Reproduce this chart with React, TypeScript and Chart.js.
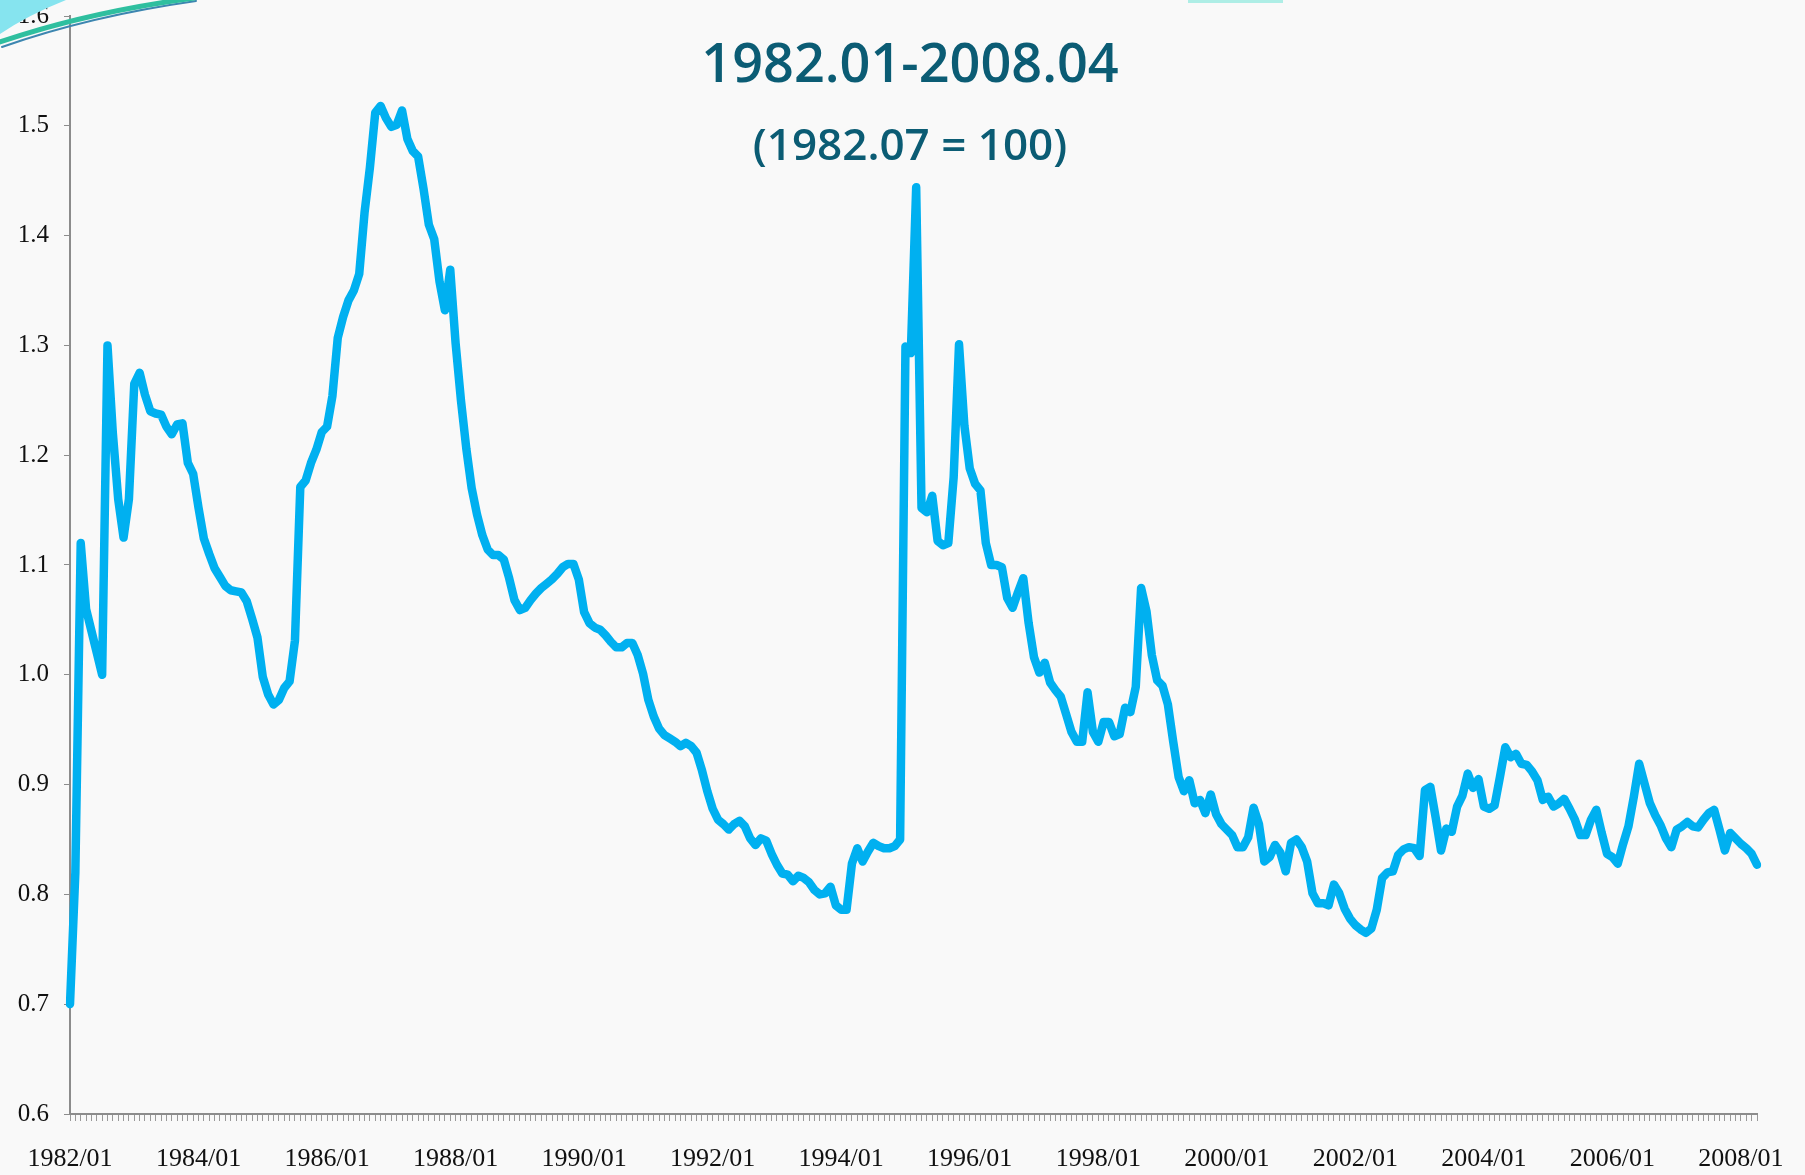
import React, { useEffect, useRef } from 'react';
import { Chart, registerables } from 'chart.js';

Chart.register(...registerables);

// ---- Data: monthly index values, 1982/01 - 2008/04 ----
const v1982 = [0.70, 0.82, 1.12, 1.06, 1.04, 1.02, 1.00, 1.30, 1.22, 1.16, 1.125, 1.16];
const v1983 = [1.265, 1.275, 1.255, 1.24, 1.238, 1.237, 1.226, 1.219, 1.228, 1.229, 1.193, 1.183];
const v1984 = [1.152, 1.124, 1.110, 1.097, 1.089, 1.081, 1.077, 1.076, 1.075, 1.067, 1.051, 1.034];
const v1985 = [0.998, 0.982, 0.973, 0.977, 0.988, 0.994, 1.031, 1.171, 1.177, 1.193, 1.205, 1.221];
const v1986 = [1.226, 1.254, 1.307, 1.326, 1.341, 1.350, 1.365, 1.421, 1.462, 1.512, 1.518, 1.507];
const v1987 = [1.499, 1.501, 1.514, 1.488, 1.477, 1.472, 1.443, 1.410, 1.397, 1.358, 1.332, 1.369];
const v1988 = [1.302, 1.250, 1.206, 1.170, 1.146, 1.127, 1.114, 1.109, 1.109, 1.105, 1.088, 1.068];
const v1989 = [1.059, 1.061, 1.068, 1.074, 1.079, 1.083, 1.087, 1.092, 1.098, 1.101, 1.101, 1.087];
const v1990 = [1.057, 1.047, 1.043, 1.041, 1.036, 1.030, 1.025, 1.025, 1.029, 1.029, 1.018, 1.001];
const v1991 = [0.977, 0.962, 0.951, 0.945, 0.942, 0.939, 0.935, 0.938, 0.935, 0.929, 0.913, 0.894];
const v1992 = [0.878, 0.868, 0.864, 0.859, 0.864, 0.867, 0.862, 0.851, 0.845, 0.851, 0.849, 0.837];
const v1993 = [0.827, 0.819, 0.818, 0.812, 0.817, 0.815, 0.811, 0.804, 0.800, 0.801, 0.807, 0.790];
const v1994 = [0.786, 0.786, 0.828, 0.842, 0.830, 0.839, 0.847, 0.844, 0.842, 0.842, 0.844, 0.850];
const v1995 = [1.299, 1.293, 1.444, 1.152, 1.148, 1.163, 1.122, 1.118, 1.120, 1.180, 1.301, 1.227];
const v1996 = [1.188, 1.174, 1.168, 1.120, 1.100, 1.100, 1.098, 1.070, 1.061, 1.075, 1.088, 1.047];
const v1997 = [1.016, 1.002, 1.011, 0.993, 0.986, 0.980, 0.964, 0.948, 0.939, 0.939, 0.984, 0.948];
const v1998 = [0.939, 0.957, 0.957, 0.944, 0.946, 0.970, 0.966, 0.989, 1.079, 1.058, 1.018, 0.995];
const v1999 = [0.990, 0.973, 0.939, 0.907, 0.894, 0.904, 0.883, 0.886, 0.874, 0.891, 0.873, 0.864];
const v2000 = [0.859, 0.854, 0.843, 0.843, 0.852, 0.879, 0.864, 0.830, 0.834, 0.845, 0.838, 0.821];
const v2001 = [0.847, 0.850, 0.843, 0.830, 0.801, 0.792, 0.792, 0.790, 0.809, 0.801, 0.787, 0.778];
const v2002 = [0.772, 0.768, 0.765, 0.769, 0.786, 0.815, 0.820, 0.821, 0.836, 0.841, 0.843, 0.842];
const v2003 = [0.835, 0.895, 0.898, 0.870, 0.840, 0.860, 0.857, 0.880, 0.890, 0.910, 0.897, 0.905];
const v2004 = [0.880, 0.878, 0.881, 0.907, 0.934, 0.925, 0.928, 0.919, 0.918, 0.912, 0.904, 0.886];
const v2005 = [0.889, 0.880, 0.883, 0.887, 0.878, 0.868, 0.854, 0.854, 0.868, 0.877, 0.856, 0.837];
const v2006 = [0.834, 0.828, 0.846, 0.862, 0.889, 0.919, 0.901, 0.883, 0.872, 0.863, 0.851, 0.843];
const v2007 = [0.859, 0.862, 0.866, 0.862, 0.861, 0.868, 0.874, 0.877, 0.859, 0.840, 0.856, 0.851];
const v2008 = [0.846, 0.842, 0.837, 0.827];

const yearlySeries = [
  v1982, v1983, v1984, v1985, v1986, v1987, v1988, v1989, v1990, v1991,
  v1992, v1993, v1994, v1995, v1996, v1997, v1998, v1999, v2000, v2001,
  v2002, v2003, v2004, v2005, v2006, v2007, v2008,
];
const firstYear = 1982;
const labelEveryMonths = 24;

const yMin = 0.6;
const yMax = 1.6;
const yStep = 0.1;

const titleText = '1982.01-2008.04';
const subtitleText = '(1982.07 = 100)';

// Build categories (YYYY/MM) and the flat value series
const monthLabels: string[] = [];
const values: number[] = [];
yearlySeries.forEach((arr, yi) => {
  arr.forEach((v, mi) => {
    monthLabels.push(`${firstYear + yi}/${String(mi + 1).padStart(2, '0')}`);
    values.push(v);
  });
});

const decorPlugin = {
  id: 'decor',
  beforeDraw(chart: any) {
    const ctx = chart.ctx;
    ctx.save();
    ctx.fillStyle = '#f9f9f9';
    ctx.fillRect(0, 0, chart.width, chart.height);
    ctx.restore();
  },
  afterDraw(chart: any) {
    const ctx = chart.ctx;
    ctx.save();
    // cyan corner
    ctx.fillStyle = '#86e4ef';
    ctx.beginPath();
    ctx.moveTo(0, 0);
    ctx.lineTo(66, 0);
    ctx.quadraticCurveTo(28, 15, 0, 34);
    ctx.closePath();
    ctx.fill();
    // stripe
    ctx.lineCap = 'round';
    ctx.strokeStyle = '#3d86b0';
    ctx.lineWidth = 2;
    ctx.beginPath();
    ctx.moveTo(2, 47);
    ctx.quadraticCurveTo(90, 16, 196, 1);
    ctx.stroke();
    ctx.strokeStyle = '#2fbf9f';
    ctx.lineWidth = 5;
    ctx.beginPath();
    ctx.moveTo(0, 42);
    ctx.quadraticCurveTo(88, 12, 194, -2);
    ctx.stroke();
    // small top bar
    ctx.fillStyle = '#aeeee6';
    ctx.fillRect(1188, 0, 95, 3);
    ctx.restore();
  },
};

export default function App() {
  const canvasRef = useRef<HTMLCanvasElement | null>(null);

  useEffect(() => {
    if (!canvasRef.current) return;
    const tickFont = { family: '"Liberation Serif", "DejaVu Serif", serif', size: 26, lineHeight: 1.1 };
    const yTickFont = { family: '"Liberation Serif", "DejaVu Serif", serif', size: 25, lineHeight: 1.1 };
    const chart = new Chart(canvasRef.current, {
      type: 'line',
      data: {
        labels: monthLabels,
        datasets: [
          {
            data: values,
            borderColor: '#00b0f0',
            borderWidth: 8.5,
            pointRadius: 0,
            tension: 0,
            fill: false,
            borderJoinStyle: 'round',
            borderCapStyle: 'round',
          },
        ],
      },
      options: {
        animation: false,
        responsive: false,
        maintainAspectRatio: false,
        layout: { padding: { left: 0, top: 16, right: 48, bottom: 0 } },
        plugins: {
          legend: { display: false },
          tooltip: { enabled: false },
          title: { display: false },
        },
        scales: {
          x: {
            type: 'category',
            offset: false,
            grid: {
              display: true,
              drawOnChartArea: false,
              drawTicks: true,
              tickLength: 7,
              color: '#999999',
              lineWidth: 1,
            },
            border: { display: true, color: '#8c8c8c', width: 2 },
            ticks: {
              autoSkip: false,
              maxRotation: 0,
              minRotation: 0,
              padding: 24,
              color: '#111111',
              font: tickFont,
              callback: (_v: any, idx: number) =>
                idx % labelEveryMonths === 0 ? monthLabels[idx] : '',
            },
            afterFit: (s: any) => {
              s.height = 61;
              s.paddingLeft = 0;
              s.paddingRight = 0;
            },
          },
          y: {
            min: yMin,
            max: yMax,
            grid: {
              display: true,
              drawOnChartArea: false,
              drawTicks: true,
              tickLength: 6,
              color: '#8c8c8c',
            },
            border: { display: true, color: '#8c8c8c', width: 2 },
            ticks: {
              stepSize: yStep,
              padding: 15,
              color: '#111111',
              font: yTickFont,
              callback: (v: any) => Number(v).toFixed(1),
            },
            afterFit: (s: any) => {
              s.width = 70;
              s.paddingTop = 0;
              s.paddingBottom = 0;
            },
          },
        },
      } as any,
      plugins: [decorPlugin],
    });
    return () => chart.destroy();
  }, []);

  return (
    <div
      style={{
        position: 'fixed',
        left: 0,
        top: 0,
        width: 1805,
        height: 1175,
        background: '#f9f9f9',
        overflow: 'hidden',
      }}
    >
      <canvas ref={canvasRef} width={1805} height={1175} style={{ display: 'block' }} />
      <div
        style={{
          position: 'absolute',
          left: 910,
          top: 34,
          transform: 'translateX(-50%)',
          fontFamily: '"Open Sans", "Liberation Sans", sans-serif',
          fontWeight: 600,
          fontSize: 54,
          lineHeight: '54px',
          color: '#0b5c74',
          whiteSpace: 'nowrap',
        }}
      >
        {titleText}
      </div>
      <div
        style={{
          position: 'absolute',
          left: 910,
          top: 121,
          transform: 'translateX(-50%)',
          fontFamily: '"Open Sans", "Liberation Sans", sans-serif',
          fontWeight: 600,
          fontSize: 44,
          lineHeight: '44px',
          color: '#0b5c74',
          whiteSpace: 'nowrap',
        }}
      >
        {subtitleText}
      </div>
    </div>
  );
}
